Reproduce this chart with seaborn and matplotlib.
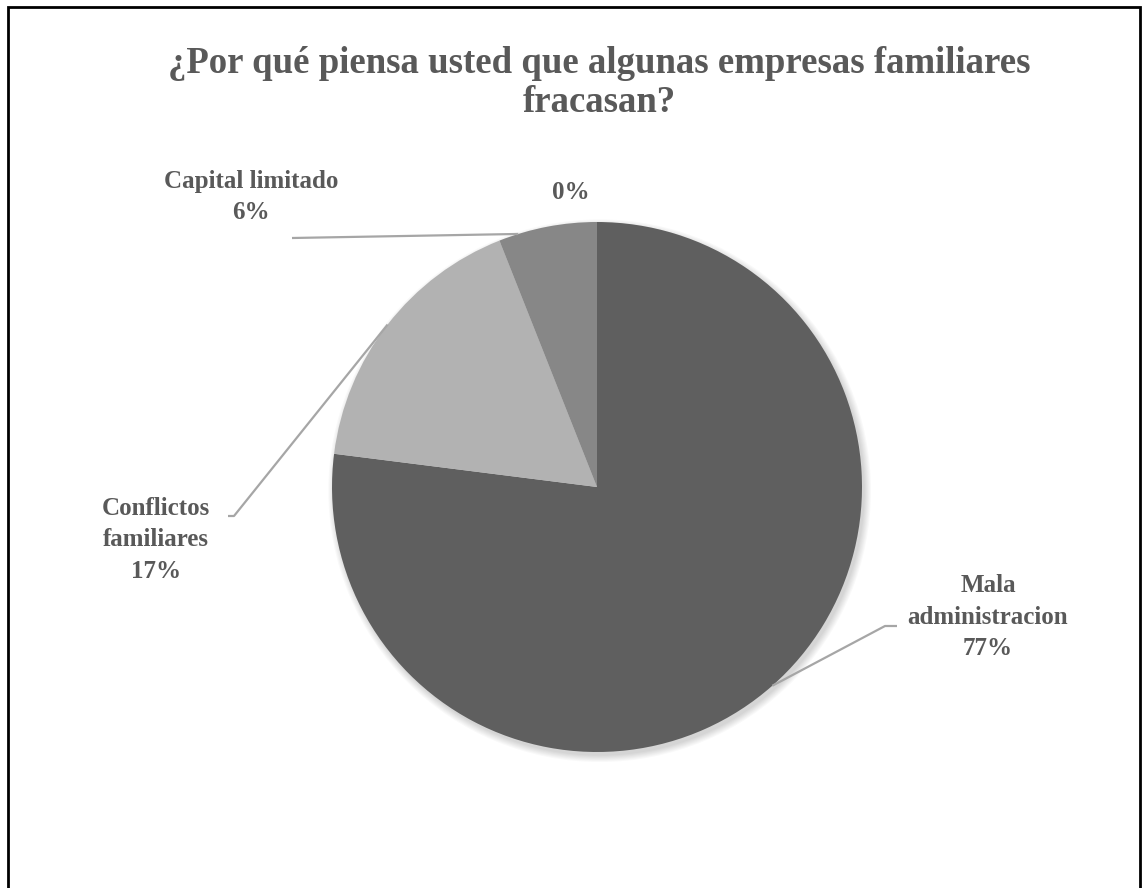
import numpy as np
import matplotlib
matplotlib.use('Agg')
import matplotlib.pyplot as plt
import seaborn as sns
from matplotlib.patches import Circle, Rectangle

# data
categories = ['Mala administracion', 'Conflictos familiares', 'Capital limitado', '']
values = [77, 17, 6, 0]
label_names = ['Mala\nadministracion', 'Conflictos\nfamiliares', 'Capital limitado', '']
colors = ['#5f5f5f', '#b2b2b2', '#878787', '#3f3f3f']
title = '¿Por qué piensa usted que algunas empresas familiares\nfracasan?'

sns.set_style('white')
plt.rcParams['font.family'] = ['Liberation Serif', 'DejaVu Serif']
txt_col = '#595959'

W, H = 1142, 888
cx, cy, R = 597, 487, 265  # pie centre / radius in pixels


def px(x, y):
    # pixel position -> data units (pie radius = 1)
    return (x - cx) / R, (cy - y) / R


fig = plt.figure(figsize=(W / 100, H / 100), dpi=100)
ax = fig.add_axes([0, 0, 1, 1])

# soft shadow behind the pie
for k in range(7):
    ax.add_patch(Circle((0.010, -0.014), 1 + 0.004 * k, color='black',
                        alpha=0.025, lw=0, zorder=0))

wedges, _ = ax.pie(values, colors=colors, startangle=90, counterclock=False,
                   radius=1, wedgeprops=dict(linewidth=0))
for w in wedges:
    w.set_zorder(2)

ax.set_xlim(px(0, 0)[0], px(W, 0)[0])
ax.set_ylim(px(0, H)[1], px(0, 0)[1])
ax.set_aspect('auto')
ax.axis('off')

total = sum(values)
# label layout: text centre (px), leader elbow points (px), anchor fraction along wedge
layout = [
    ((988, 617), [(897, 626), (885, 626)], 0.5),
    ((156, 540), [(228, 516), (234, 516)], 0.5),
    ((251, 197), [(292, 238)], 0.8),
    ((571, 193), [], 0.5),
]

for w, name, v, (tpos, elbow, frac) in zip(wedges, label_names, values, layout):
    pct = f'{v / total * 100:.0f}%'
    text = f'{name}\n{pct}' if name else pct
    ax.text(*px(*tpos), text, ha='center', va='center', fontsize=18,
            fontweight='bold', color=txt_col, linespacing=1.45, zorder=5)
    if elbow:
        ang = np.deg2rad(w.theta1 + frac * (w.theta2 - w.theta1))
        pts = [px(*p) for p in elbow] + [(np.cos(ang), np.sin(ang))]
        xs, ys = zip(*pts)
        ax.plot(xs, ys, color='#a6a6a6', lw=1.6, zorder=3, solid_capstyle='butt')

fig.text(599 / W, 1 - 83 / H, title, ha='center', va='center', fontsize=26.5,
         fontweight='bold', color=txt_col, linespacing=1.12)

# outer frame (bottom edge falls outside the image)
fig.add_artist(Rectangle((8 / W, -0.1), (1140 - 8) / W, 0.1 + 1 - 7 / H,
                         transform=fig.transFigure, fill=False, ec='black', lw=2))

fig.savefig('out.png', dpi=100)
